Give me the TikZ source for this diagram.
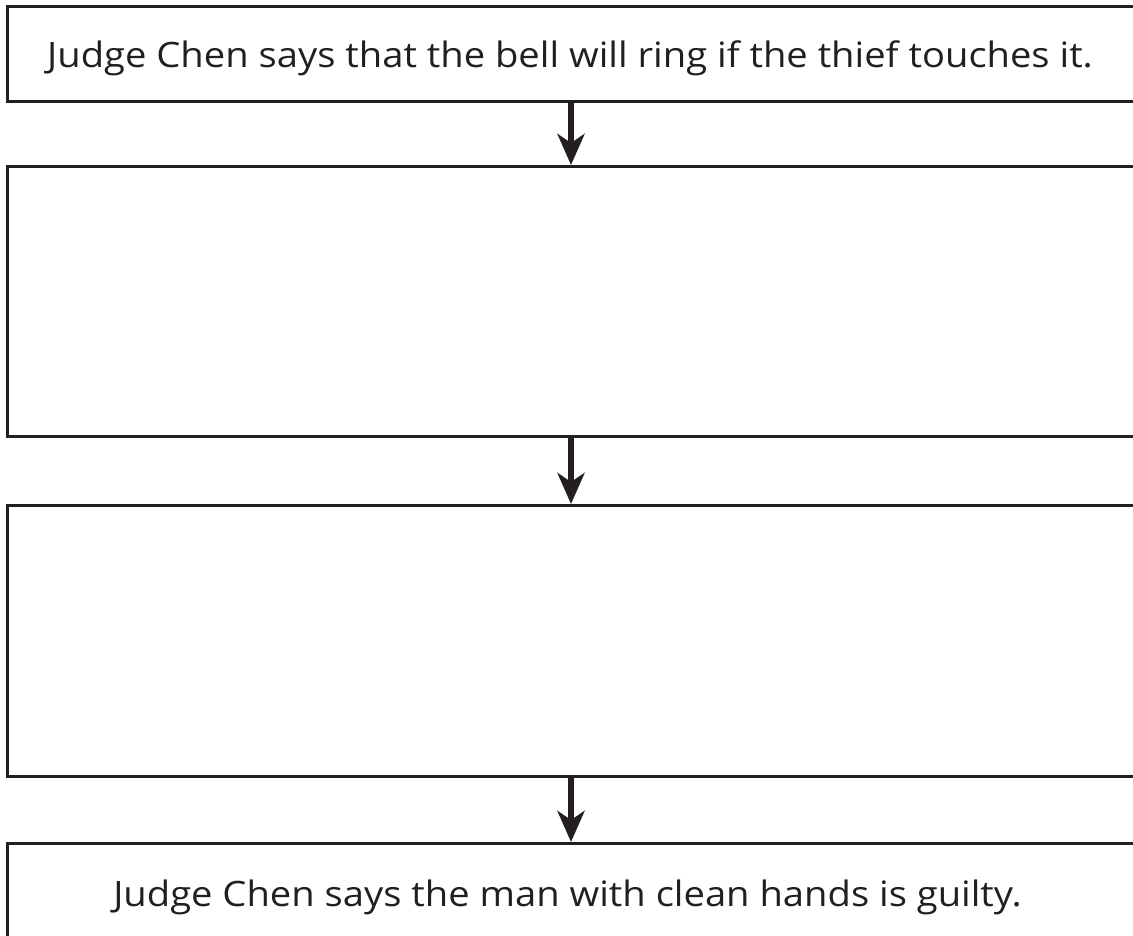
\documentclass[tikz,border=0pt]{standalone}
\usepackage{fontspec}
\setmainfont[FakeStretch=1.09]{Open Sans}
\usetikzlibrary{arrows.meta}
\definecolor{ink}{HTML}{231F20}
\tikzset{
  box/.style={draw=ink, line width=3pt, rectangle},
  lbl/.style={text=ink, font=\fontsize{35}{40}\selectfont, inner sep=0pt, anchor=base},
  arr/.style={draw=ink, line width=5.5pt, -{Stealth[length=31pt, width=27pt, inset=9pt]}}
}
\begin{document}
\begin{tikzpicture}[x=1pt,y=-1pt]
\useasboundingbox (0,0) rectangle (1133,935);
\clip (0,0) rectangle (1133,935);
\draw[box] (7.5,6.5) rectangle (1160,101) node[pos=0.5, inner sep=0pt] (b1) {};
\draw[box] (7.5,166) rectangle (1160,436) node[pos=0.5, inner sep=0pt] (b2) {};
\draw[box] (7.5,505.5) rectangle (1160,776) node[pos=0.5, inner sep=0pt] (b3) {};
\draw[box] (7.5,843) rectangle (1160,990) node[pos=0.5, inner sep=0pt] (b4) {};
\coordinate (t1) at (571,101);
\coordinate (h2) at (571,165);
\coordinate (t2) at (571,436);
\coordinate (h3) at (571,504);
\coordinate (t3) at (571,776);
\coordinate (h4) at (571,842);
\node[lbl] (l1) at (570,67) {Judge Chen says that the bell will ring if the thief touches it.};
\node[lbl] (l4) at (567.5,906) {Judge Chen says the man with clean hands is guilty.};
\draw[arr] (t1) -- (h2);
\draw[arr] (t2) -- (h3);
\draw[arr] (t3) -- (h4);
\end{tikzpicture}
\end{document}
